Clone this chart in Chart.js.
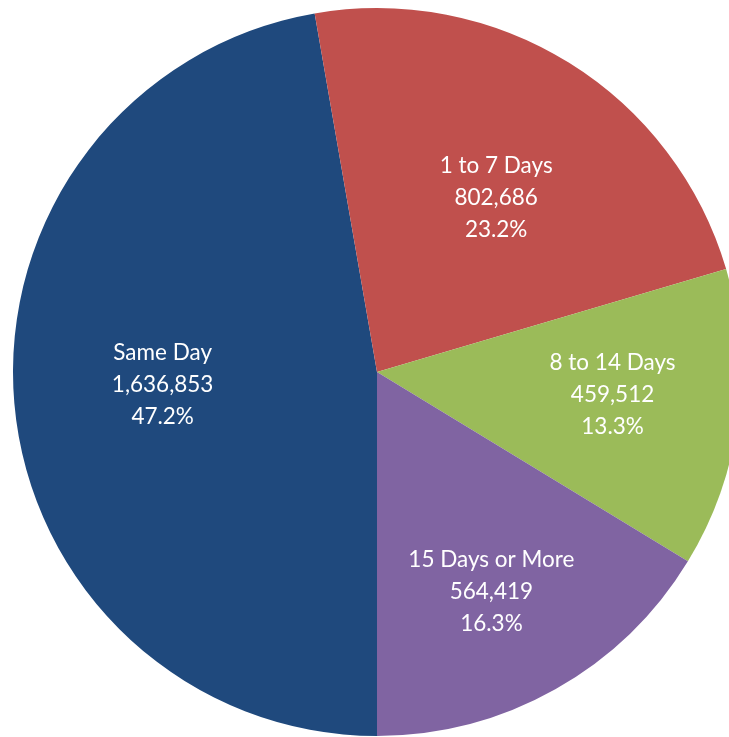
<!DOCTYPE html>
<html>
<head>
<meta charset="utf-8">
<script src="https://cdn.jsdelivr.net/npm/chart.js@4.4.1/dist/chart.umd.min.js"></script>
<style>
html,body{margin:0;padding:0;background:#fff;overflow:hidden;width:729px;height:737px;}
#wrap{position:absolute;left:0;top:0;width:754px;height:744px;}
</style>
</head>
<body>
<div id="wrap"><canvas id="c" width="754" height="744"></canvas></div>
<script>
const categories = ["Same Day", "1 to 7 Days", "8 to 14 Days", "15 Days or More"];
const values = [1636853, 802686, 459512, 564419];
const valueLabels = ["1,636,853", "802,686", "459,512", "564,419"];
const percentLabels = ["47.2%", "23.2%", "13.3%", "16.3%"];
const colors = ["#1F497D", "#C0504D", "#9BBB59", "#8064A2"];
const labelRadius = [0.59, 0.58, 0.65, 0.68];
const labelAngleShift = [1.5, 2.5, -2, 1.8];

const labelPlugin = {
  id: 'sliceLabels',
  afterDatasetsDraw(chart) {
    const ctx = chart.ctx;
    const meta = chart.getDatasetMeta(0);
    ctx.save();
    ctx.fillStyle = '#ffffff';
    ctx.font = '22.5px Lato, "Open Sans", sans-serif';
    ctx.textAlign = 'center';
    ctx.textBaseline = 'middle';
    meta.data.forEach((arc, i) => {
      const p = arc.getProps(['x','y','startAngle','endAngle','outerRadius'], true);
      const mid = (p.startAngle + p.endAngle) / 2 + labelAngleShift[i] * Math.PI / 180;
      const r = p.outerRadius * labelRadius[i];
      const cx = p.x + Math.cos(mid) * r;
      const cy = p.y + Math.sin(mid) * r;
      const lines = [categories[i], valueLabels[i], percentLabels[i]];
      lines.forEach((t, k) => ctx.fillText(t, cx, cy + (k - 1) * 32));
    });
    ctx.restore();
  }
};

new Chart(document.getElementById('c'), {
  type: 'pie',
  data: {
    labels: categories,
    datasets: [{
      data: values,
      backgroundColor: colors,
      borderWidth: 0
    }]
  },
  options: {
    responsive: false,
    animation: false,
    rotation: 180,
    layout: { padding: 8 },
    plugins: { legend: { display: false }, tooltip: { enabled: false } }
  },
  plugins: [labelPlugin]
});
</script>
</body>
</html>
